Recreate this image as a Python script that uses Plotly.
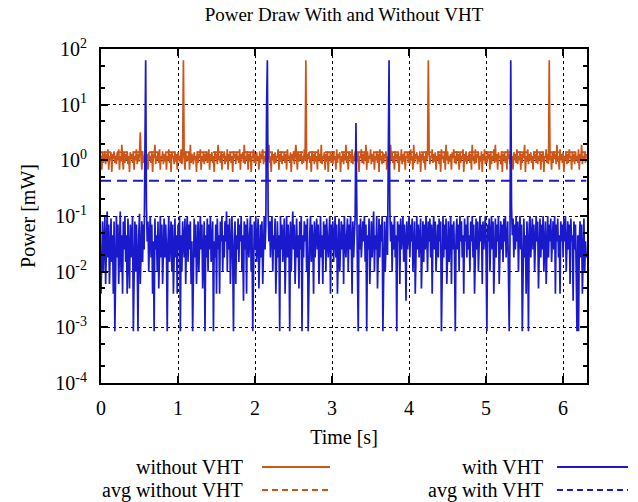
import plotly.graph_objects as go

# ---------------- data ----------------
t_step = 0.01  # seconds between samples
without_vht = [
    1.2, 0.68, 1.4, 0.9, 1.1, 1.45, 0.85, 1.3, 0.95, 1.58, 0.68, 1.2, 1.0, 1.4, 0.62, 1.3, 1.05, 1.45, 0.9, 1.2,
    0.85, 1.4, 1.0, 1.58, 0.68, 1.2, 0.95, 1.9, 1.1, 0.68, 1.4, 0.9, 1.3, 1.0, 1.45, 0.85, 1.2, 0.62, 1.4, 1.05,
    1.3, 0.9, 1.45, 0.68, 1.2, 1.0, 1.58, 0.85, 1.3, 0.95, 1.4, 3.2, 1.1, 0.68, 1.45, 0.9, 1.2, 1.05, 1.58, 0.85,
    1.3, 0.68, 1.4, 1.0, 1.2, 0.9, 1.45, 0.62, 1.3, 1.1, 1.9, 0.85, 1.2, 1.0, 1.4, 0.9, 1.58, 0.68, 1.2, 1.05,
    1.45, 0.85, 1.3, 0.95, 1.4, 0.68, 1.2, 1.0, 1.58, 0.9, 1.3, 0.62, 1.4, 1.1, 1.2, 0.85, 1.45, 0.95, 1.3, 0.68,
    1.4, 1.0, 1.2, 0.9, 1.58, 0.85, 1.3, 63, 1.1, 0.68, 1.45, 0.95, 1.2, 1.0, 1.4, 0.68, 1.9, 0.9, 1.3, 1.05,
    0.85, 1.4, 1.0, 1.2, 0.62, 1.45, 0.9, 1.3, 1.1, 1.58, 0.68, 1.2, 0.95, 1.4, 0.85, 1.3, 1.0, 1.45, 0.9, 1.2,
    1.58, 0.68, 1.3, 1.0, 1.4, 0.9, 1.2, 0.62, 1.45, 1.05, 1.3, 0.85, 1.9, 1.0, 1.2, 0.9, 1.4, 0.68, 1.3, 1.1,
    1.45, 0.85, 1.2, 0.95, 1.58, 0.68, 1.3, 1.0, 1.4, 0.9, 1.2, 0.62, 1.45, 1.1, 1.3, 0.85, 1.4, 1.0, 1.2, 0.9,
    1.58, 0.68, 1.3, 1.05, 1.4, 0.9, 1.9, 0.85, 1.2, 1.0, 1.45, 0.68, 1.3, 0.95, 1.4, 0.62, 1.2, 1.1, 1.58, 0.9,
    1.3, 0.85, 1.4, 1.0, 1.2, 0.68, 1.45, 0.9, 1.3, 1.05, 1.58, 0.85, 1.2, 0.95, 1.4, 0.68, 1.3, 1.0, 1.9, 0.9,
    1.2, 0.62, 1.45, 1.0, 1.3, 0.85, 1.4, 0.9, 1.2, 1.1, 1.58, 0.68, 1.3, 0.95, 1.45, 0.85, 1.2, 1.0, 1.4, 0.9,
    1.3, 0.68, 1.58, 1.05, 1.2, 0.9, 1.4, 0.62, 1.3, 1.0, 1.45, 0.85, 1.2, 1.9, 1.1, 0.68, 1.4, 0.95, 1.3, 1.0,
    1.45, 0.85, 1.2, 0.9, 1.58, 1.0, 63, 0.68, 1.3, 1.05, 1.4, 0.9, 1.2, 0.62, 1.45, 1.0, 1.3, 0.85, 1.4, 0.95,
    1.2, 0.68, 1.58, 1.0, 1.3, 0.9, 1.9, 0.85, 1.2, 1.05, 1.4, 0.68, 1.3, 0.95, 1.45, 0.62, 1.2, 1.0, 1.4, 0.9,
    1.3, 0.85, 1.45, 1.0, 1.2, 0.68, 1.58, 0.9, 1.3, 1.1, 1.4, 0.62, 1.2, 0.95, 1.45, 0.85, 1.3, 1.0, 1.9, 0.9,
    1.2, 0.68, 1.4, 1.05, 1.3, 0.9, 1.58, 0.85, 1.2, 1.0, 1.45, 0.68, 1.3, 0.95, 1.4, 0.62, 1.2, 1.1, 1.58, 0.9,
    1.3, 0.85, 1.4, 1.0, 1.9, 0.68, 1.45, 0.9, 1.2, 1.05, 1.58, 0.85, 1.3, 0.95, 1.4, 0.68, 1.2, 1.0, 1.45, 0.9,
    1.3, 0.62, 1.58, 1.0, 1.2, 0.85, 1.4, 0.9, 1.3, 1.1, 1.45, 0.68, 1.2, 0.95, 1.58, 0.85, 1.9, 1.0, 1.4, 0.9,
    1.2, 0.68, 1.45, 1.05, 1.3, 0.9, 1.4, 0.62, 1.2, 1.0, 1.58, 0.85, 1.3, 0.95, 1.45, 0.68, 1.2, 1.1, 1.4, 0.9,
    1.3, 0.85, 1.58, 1.0, 1.2, 0.68, 1.9, 0.9, 1.3, 1.05, 1.4, 0.85, 1.2, 0.95, 1.45, 0.62, 1.3, 1.0, 1.4, 0.9,
    1.2, 0.68, 1.45, 1.0, 1.3, 63, 1.4, 0.85, 1.2, 1.1, 1.58, 0.9, 1.3, 0.95, 1.4, 0.68, 1.2, 1.0, 1.45, 0.85,
    1.3, 0.62, 1.58, 1.05, 1.2, 0.9, 1.4, 0.68, 1.9, 1.0, 1.45, 0.85, 1.2, 0.95, 1.3, 0.68, 1.4, 1.1, 1.58, 0.9,
    1.2, 0.85, 1.45, 1.0, 1.3, 0.68, 1.4, 0.9, 1.2, 1.05, 1.58, 0.62, 1.3, 0.95, 1.45, 0.85, 1.2, 1.0, 1.4, 0.9,
    1.3, 0.68, 1.9, 1.0, 1.2, 0.85, 1.58, 0.9, 1.3, 1.1, 1.4, 0.68, 1.2, 0.95, 1.45, 0.62, 1.3, 1.0, 1.58, 0.85,
    1.2, 0.9, 1.4, 1.05, 1.3, 0.68, 1.45, 0.85, 1.2, 1.0, 1.58, 0.9, 1.9, 0.95, 1.3, 0.68, 1.4, 1.1, 1.2, 0.85,
    1.45, 0.62, 1.3, 1.0, 1.4, 0.9, 1.2, 0.68, 1.58, 1.05, 1.3, 0.85, 1.45, 0.95, 1.2, 0.68, 1.4, 1.0, 1.3, 0.9,
    1.58, 0.85, 1.2, 1.0, 1.45, 0.68, 1.3, 0.9, 1.4, 1.1, 1.9, 0.62, 1.2, 0.95, 1.58, 0.85, 1.3, 1.0, 1.4, 0.9,
    1.2, 0.68, 1.45, 1.05, 1.3, 0.9, 1.58, 0.85, 1.2, 1.0, 1.4, 0.68, 1.3, 0.95, 1.45, 0.62, 1.2, 1.1, 1.58, 0.9,
    1.3, 0.85, 63, 1.0, 1.2, 0.68, 1.4, 0.9, 1.45, 1.05, 1.3, 0.85, 1.9, 0.95, 1.2, 0.68, 1.58, 1.0, 1.3, 0.9,
    1.4, 0.62, 1.2, 1.0, 1.45, 0.85, 1.3, 0.9, 1.58, 1.1, 1.2, 0.68, 1.4, 0.95, 1.3, 0.85, 1.45, 1.0, 1.2, 0.9,
    1.58, 0.68, 1.3, 1.05, 1.9, 0.85, 1.2, 1.0, 1.4, 0.9, 1.3,
]
with_vht = [
    0.004, 0.018, 0.08, 0.01, 0.045, 0.1, 0.006, 0.035, 0.12, 0.018, 0.07, 0.006, 0.025, 0.09, 0.015, 0.045, 0.004, 0.08, 0.00085, 0.035,
    0.1, 0.018, 0.07, 0.006, 0.035, 0.12, 0.01, 0.045, 0.004, 0.08, 0.025, 0.1, 0.015, 0.045, 0.004, 0.09, 0.02, 0.005, 0.07, 0.018,
    0.045, 0.1, 0.00085, 0.035, 0.08, 0.01, 0.07, 0.018, 0.00085, 0.045, 0.11, 0.006, 0.035, 0.08, 0.015, 0.07, 0.025, 6.3, 63, 0.15,
    0.035, 0.08, 0.01, 0.045, 0.1, 0.018, 0.07, 0.004, 0.035, 0.00085, 0.09, 0.025, 0.045, 0.01, 0.08, 0.005, 0.035, 0.1, 0.018, 0.07,
    0.006, 0.045, 0.09, 0.018, 0.07, 0.025, 0.00085, 0.035, 0.1, 0.015, 0.045, 0.08, 0.01, 0.07, 0.004, 0.035, 0.09, 0.018, 0.045, 0.004,
    0.07, 0.025, 0.1, 0.00085, 0.045, 0.01, 0.08, 0.035, 0.018, 0.09, 0.006, 0.045, 0.1, 0.015, 0.07, 0.025, 0.08, 0.006, 0.035, 0.00085,
    0.045, 0.09, 0.018, 0.07, 0.006, 0.035, 0.08, 0.01, 0.045, 0.1, 0.025, 0.07, 0.005, 0.035, 0.08, 0.00085, 0.045, 0.018, 0.09, 0.01,
    0.07, 0.025, 0.1, 0.015, 0.045, 0.08, 0.00085, 0.035, 0.018, 0.07, 0.004, 0.09, 0.025, 0.045, 0.004, 0.08, 0.035, 0.1, 0.01, 0.045,
    0.018, 0.08, 0.035, 0.12, 0.01, 0.07, 0.025, 0.09, 0.006, 0.045, 0.1, 0.018, 0.00085, 0.035, 0.08, 0.006, 0.045, 0.025, 0.09, 0.015,
    0.07, 0.035, 0.1, 0.01, 0.045, 0.003, 0.08, 0.025, 0.07, 0.004, 0.09, 0.035, 0.018, 0.045, 0.1, 0.01, 0.07, 0.00085, 0.035, 0.08,
    0.025, 0.1, 0.015, 0.045, 0.09, 0.005, 0.035, 0.07, 0.018, 0.08, 0.006, 0.045, 0.1, 0.025, 0.07, 9.0, 63, 0.12, 0.035, 0.08,
    0.018, 0.07, 0.1, 0.01, 0.045, 0.025, 0.09, 0.004, 0.035, 0.08, 0.018, 0.045, 0.00085, 0.1, 0.025, 0.07, 0.015, 0.035, 0.09, 0.004,
    0.045, 0.1, 0.018, 0.07, 0.035, 0.00085, 0.08, 0.01, 0.045, 0.12, 0.025, 0.07, 0.006, 0.035, 0.09, 0.018, 0.045, 0.005, 0.08, 0.025,
    0.1, 0.00085, 0.045, 0.018, 0.08, 0.035, 0.07, 0.01, 0.09, 0.00085, 0.025, 0.045, 0.1, 0.015, 0.07, 0.035, 0.004, 0.08, 0.018, 0.045,
    0.09, 0.025, 0.07, 0.006, 0.035, 0.1, 0.018, 0.045, 0.006, 0.08, 0.025, 0.07, 0.01, 0.09, 0.035, 0.018, 0.045, 0.1, 0.004, 0.07,
    0.025, 0.08, 0.015, 0.045, 0.1, 0.018, 0.07, 0.004, 0.035, 0.09, 0.01, 0.045, 0.08, 0.025, 0.07, 0.006, 0.1, 0.035, 0.018, 0.045,
    0.09, 0.01, 0.07, 0.025, 0.1, 0.035, 0.004, 0.08, 0.018, 0.045, 0.1, 4.7, 0.035, 0.01, 0.00085, 0.07, 0.025, 0.09, 0.018, 0.045,
    0.08, 0.035, 0.1, 0.015, 0.07, 0.00085, 0.045, 0.025, 0.09, 0.006, 0.035, 0.08, 0.018, 0.07, 0.12, 0.01, 0.045, 0.025, 0.1, 0.005,
    0.045, 0.09, 0.018, 0.07, 0.035, 0.1, 0.00085, 0.025, 0.08, 0.01, 0.045, 0.1, 0.02, 22, 63, 0.14, 0.035, 0.08, 0.01, 0.07,
    0.025, 0.1, 0.018, 0.045, 0.00085, 0.08, 0.035, 0.07, 0.006, 0.09, 0.025, 0.045, 0.1, 0.015, 0.07, 0.035, 0.003, 0.08, 0.025, 0.045,
    0.1, 0.018, 0.07, 0.035, 0.09, 0.01, 0.045, 0.08, 0.004, 0.035, 0.1, 0.025, 0.07, 0.018, 0.045, 0.09, 0.005, 0.035, 0.08, 0.015,
    0.07, 0.025, 0.1, 0.045, 0.01, 0.08, 0.035, 0.09, 0.018, 0.07, 0.004, 0.045, 0.1, 0.025, 0.08, 0.01, 0.035, 0.07, 0.018, 0.09,
    0.035, 0.08, 0.00085, 0.045, 0.1, 0.018, 0.07, 0.025, 0.09, 0.006, 0.045, 0.08, 0.015, 0.035, 0.1, 0.006, 0.07, 0.025, 0.08, 0.018,
    0.00085, 0.045, 0.09, 0.025, 0.07, 0.01, 0.1, 0.035, 0.08, 0.018, 0.045, 0.004, 0.09, 0.035, 0.07, 0.018, 0.1, 0.025, 0.045, 0.01,
    0.08, 0.035, 0.1, 0.018, 0.07, 0.004, 0.045, 0.09, 0.025, 0.08, 0.01, 0.045, 0.1, 0.035, 0.07, 0.006, 0.08, 0.025, 0.045, 0.1,
    0.018, 0.00085, 0.07, 0.035, 0.09, 0.01, 0.045, 0.1, 0.025, 0.08, 0.004, 0.045, 0.09, 0.018, 0.07, 0.035, 0.1, 0.006, 0.045, 0.08,
    0.025, 0.07, 0.015, 0.09, 0.035, 0.1, 0.018, 0.045, 0.08, 0.01, 0.00085, 0.035, 63, 0.15, 0.045, 0.09, 0.018, 0.07, 0.025, 0.1,
    0.035, 0.08, 0.01, 0.045, 0.1, 0.025, 0.07, 0.00085, 0.035, 0.09, 0.018, 0.045, 0.004, 0.08, 0.035, 0.00085, 0.07, 0.1, 0.018, 0.045,
    0.09, 0.025, 0.07, 0.01, 0.045, 0.1, 0.035, 0.08, 0.005, 0.045, 0.09, 0.018, 0.07, 0.025, 0.1, 0.01, 0.045, 0.08, 0.006, 0.035,
    0.1, 0.018, 0.07, 0.035, 0.09, 0.015, 0.045, 0.08, 0.025, 0.1, 0.004, 0.07, 0.035, 0.09, 0.018, 0.045, 0.004, 0.08, 0.035, 0.07,
    0.018, 0.09, 0.035, 0.1, 0.01, 0.045, 0.08, 0.025, 0.07, 0.006, 0.09, 0.035, 0.045, 0.003, 0.08, 0.025, 0.07, 0.01, 0.00085, 0.045,
    0.00085, 0.035, 0.08, 0.018, 0.07, 0.004, 0.045, 0.09, 0.01, 0.035, 0.018,
]
avg_without_vht = 1.4
avg_with_vht = 0.43

y_tick_vals = [1e-4, 1e-3, 1e-2, 1e-1, 1e0, 1e1, 1e2]
y_tick_text = ["10<sup>-4</sup>", "10<sup>-3</sup>", "10<sup>-2</sup>", "10<sup>-1</sup>",
               "10<sup>0</sup>", "10<sup>1</sup>", "10<sup>2</sup>"]
x_tick_vals = [0, 1, 2, 3, 4, 5, 6]

legend_labels = ["without VHT", "avg without VHT", "with VHT", "avg with VHT"]

# ---------------- style ----------------
ORANGE = "#cc5518"
BLUE = "#1a1acc"
FONT = "Liberation Serif"

t_end = t_step * (len(without_vht) - 1)

fig = go.Figure()
fig.add_trace(go.Scatter(x0=0, dx=t_step, y=without_vht, mode="lines",
                         line=dict(color=ORANGE, width=1.7), name=legend_labels[0]))
fig.add_trace(go.Scatter(x=[0, t_end], y=[avg_without_vht, avg_without_vht], mode="lines",
                         line=dict(color=ORANGE, width=2, dash="10px,6px"), name=legend_labels[1]))
fig.add_trace(go.Scatter(x0=0, dx=t_step, y=with_vht, mode="lines",
                         line=dict(color=BLUE, width=1.7), name=legend_labels[2]))
fig.add_trace(go.Scatter(x=[0, t_end], y=[avg_with_vht, avg_with_vht], mode="lines",
                         line=dict(color=BLUE, width=2, dash="10px,6px"), name=legend_labels[3]))

axis_common = dict(
    showline=True, linecolor="black", linewidth=2, mirror="allticks",
    ticks="inside", ticklen=7, tickwidth=1.5, tickcolor="black",
    showgrid=True, gridcolor="black", gridwidth=1, griddash="dot",
    zeroline=False, automargin=False,
    tickfont=dict(family=FONT, size=20, color="black"),
)

fig.update_xaxes(range=[0, 6.31], tickvals=x_tick_vals,
                 title=dict(text="Time [s]", font=dict(family=FONT, size=20, color="black"), standoff=12),
                 ticklabelstandoff=6, **axis_common)
fig.update_yaxes(type="log", range=[-4, 2], tickvals=y_tick_vals, ticktext=y_tick_text,
                 minor=dict(ticks="inside", ticklen=4, tickwidth=1.5, tickcolor="black",
                            dtick="D2", showgrid=False),
                 title=dict(text="Power [mW]", font=dict(family=FONT, size=20, color="black"), standoff=14),
                 ticklabelstandoff=8, **axis_common)

# gnuplot-style key: label text right-aligned, sample line to its right
L, R, T, B = 101, 51, 49, 119
W, H = 638, 502
pw, ph = W - L - R, H - T - B

def px_x(px):
    return (px - L) / pw

def px_y(py):
    return (H - B - py) / ph

entries = [
    (legend_labels[0], 245, 262, 330, 467, ORANGE, "solid"),
    (legend_labels[1], 245, 262, 330, 490, ORANGE, "dash"),
    (legend_labels[2], 545, 557, 628, 467, BLUE, "solid"),
    (legend_labels[3], 545, 557, 628, 490, BLUE, "dash"),
]
for text, tx, lx0, lx1, yy, col, dash in entries:
    fig.add_annotation(text=text, xref="paper", yref="paper", x=px_x(tx), y=px_y(yy),
                       xanchor="right", yanchor="middle", showarrow=False,
                       font=dict(family=FONT, size=20, color="black"))
    fig.add_shape(type="line", xref="paper", yref="paper",
                  x0=px_x(lx0), x1=px_x(lx1), y0=px_y(yy), y1=px_y(yy),
                  line=dict(color=col, width=2, dash="solid" if dash == "solid" else "6px,4px"))

fig.update_layout(
    width=W, height=H,
    margin=dict(l=L, r=R, t=T, b=B),
    paper_bgcolor="white", plot_bgcolor="white",
    showlegend=False,
    title=dict(text="Power Draw With and Without VHT", x=0.5, xanchor="center",
               xref="paper", y=1 - 14 / H, yref="container", yanchor="middle",
               font=dict(family=FONT, size=19, color="black")),
    font=dict(family=FONT, color="black"),
)

fig.write_html("out.html", config={"displayModeBar": False},
               post_script="document.body.style.margin='0px';")
